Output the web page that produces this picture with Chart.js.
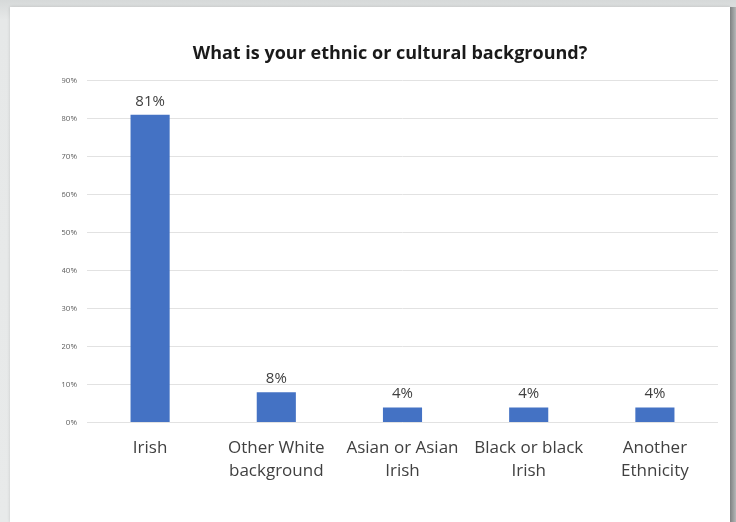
<!DOCTYPE html>
<html>
<head>
<meta charset="utf-8">
<script src="https://cdn.jsdelivr.net/npm/chart.js@4/dist/chart.umd.min.js"></script>
<style>
    html, body {
        margin: 0;
        padding: 0;
        width: 736px;
        height: 522px;
        overflow: hidden;
        background: linear-gradient(#d6d9d9, #e6e8e8 20px, #e8eaea);
        position: relative;
    }
    #card {
        position: absolute;
        left: 10px;
        top: 7px;
        width: 720px;
        height: 515px;
        background: #ffffff;
        box-shadow: 0 0 3px rgba(0, 0, 0, 0.15);
    }
    #edge {
        position: absolute;
        left: 730px;
        top: 7px;
        width: 6px;
        height: 515px;
        background: linear-gradient(to right, #7e8181, #b5b8b8);
    }
    #graph-box {
        position: absolute;
        left: 52px;
        top: 0;
        width: 656px;
        height: 515px;
    }
</style>
</head>
<body>
<div id="card">
    <div id="graph-box"><canvas id="graph"></canvas></div>
</div>
<div id="edge"></div>
<script>
const categories = [
    'Irish',
    ['Other White', 'background'],
    ['Asian or Asian', 'Irish'],
    ['Black or black', 'Irish'],
    ['Another', 'Ethnicity']
];
const percentages = [81, 8, 4, 4, 4];
const y_ticks = [0, 10, 20, 30, 40, 50, 60, 70, 80, 90];

const font_family = '"Open Sans", "Noto Sans", sans-serif';

// writes the percentage above each bar
const value_labels = {
    id: 'value_labels',
    afterDatasetsDraw(chart) {
        const ctx = chart.ctx;
        const meta = chart.getDatasetMeta(0);
        ctx.save();
        ctx.font = '15px ' + font_family;
        ctx.fillStyle = '#404040';
        ctx.textAlign = 'center';
        ctx.textBaseline = 'bottom';
        meta.data.forEach((bar, i) => {
            ctx.fillText(percentages[i] + '%', bar.x, bar.y - 6);
        });
        ctx.restore();
    }
};

function draw_chart() {
    const data = {
        labels: categories,
        datasets: [
            {
                data: percentages,
                backgroundColor: '#4472C4',
                borderWidth: 0,
                barPercentage: 0.31,
                categoryPercentage: 1
            }
        ]
    };
    const config = {
        type: 'bar',
        data,
        options: {
            responsive: true,
            maintainAspectRatio: false,
            animation: false,
            layout: {
                padding: { top: 36, left: 0, right: 0, bottom: 33.5 }
            },
            plugins: {
                legend: { display: false },
                tooltip: { enabled: false },
                title: {
                    display: true,
                    text: 'What is your ethnic or cultural background?',
                    color: '#1a1a1a',
                    font: { family: font_family, size: 18, weight: 'bold' },
                    padding: { top: 0, bottom: 16 }
                }
            },
            scales: {
                x: {
                    grid: { display: false },
                    border: { display: false },
                    ticks: {
                        color: '#404040',
                        font: { family: font_family, size: 17, lineHeight: 1.35 },
                        padding: 6,
                        maxRotation: 0,
                        autoSkip: false
                    }
                },
                y: {
                    min: 0,
                    max: 90,
                    afterBuildTicks: (axis) => {
                        axis.ticks = y_ticks.map((v) => ({ value: v }));
                    },
                    afterFit: (axis) => {
                        axis.width = 25;
                    },
                    grid: {
                        color: '#e2e2e2',
                        drawTicks: false
                    },
                    border: { display: false },
                    ticks: {
                        color: '#5f5f5f',
                        font: { family: font_family, size: 8 },
                        padding: 10,
                        callback: (v) => v + '%'
                    }
                }
            }
        },
        plugins: [value_labels]
    };
    return new Chart(document.getElementById('graph'), config);
}

draw_chart();
</script>
</body>
</html>
